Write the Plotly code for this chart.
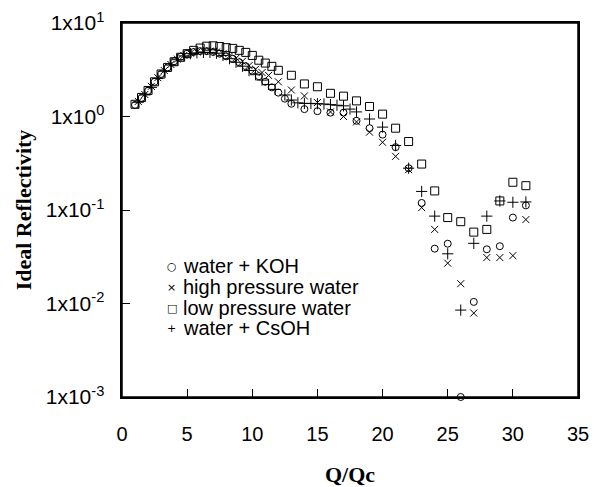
import plotly.graph_objects as go

# ---- data ----
q_koh = [1.0, 1.5, 2.0, 2.5, 3.0, 3.5, 4.0, 4.5, 5.0, 5.5, 6.0, 6.5, 7.0, 7.5, 8.0, 8.5,
         9.0, 9.5, 10.0, 10.5, 11.0, 11.5, 12.0, 12.5,
         13, 14, 15, 16, 17, 18, 19, 20, 21, 22, 23, 24, 25, 26, 27, 28, 29, 30, 31]
r_koh = [1.33, 1.58, 1.88, 2.35, 2.85, 3.35, 3.9, 4.35, 4.7, 4.9, 5.0, 5.0, 4.9, 4.7, 4.4, 4.15,
         3.8, 3.45, 3.1, 2.7, 2.35, 2.05, 1.8, 1.55,
         1.37, 1.2, 1.14, 1.1, 1.1, 0.9, 0.75, 0.64, 0.47, 0.28, 0.119, 0.0386, 0.0436, 0.001,
         0.0104, 0.038, 0.041, 0.083, 0.112]

q_hp = [1.25, 1.75, 2.25, 2.75, 3.25, 3.75, 4.25, 4.75, 5.25, 5.75, 6.25, 6.75, 7.25, 7.75,
        8.25, 8.75, 9.25, 9.75, 10.25, 10.75, 11.25,
        12, 13, 14, 15, 16, 17, 18, 19, 20, 21, 22, 23, 24, 25, 26, 27, 28, 29, 30, 31]
r_hp = [1.45, 1.72, 2.1, 2.6, 3.1, 3.6, 4.1, 4.5, 4.75, 4.9, 5.0, 5.0, 4.9, 4.7,
        4.45, 4.2, 3.9, 3.5, 3.2, 2.95, 2.75,
        2.35, 1.92, 1.66, 1.41, 1.12, 1.0, 0.875, 0.68, 0.53, 0.375, 0.27, 0.106, 0.062,
        0.027, 0.0163, 0.0079, 0.031, 0.031, 0.0325, 0.079]

q_lp = [1.0, 1.5, 2.0, 2.5, 3.0, 3.5, 4.0, 4.5, 5.0, 5.5, 6.0, 6.5, 7.0, 7.5, 8.0, 8.5,
        9.0, 9.5, 10.0, 10.5, 11.0, 11.5, 12.0,
        13, 14, 15, 16, 17, 18, 19, 20, 21, 22, 23, 24, 25, 26, 27, 28, 29, 30, 31]
r_lp = [1.35, 1.6, 1.9, 2.35, 2.85, 3.35, 3.85, 4.3, 4.7, 5.1, 5.4, 5.65, 5.7, 5.6, 5.45, 5.35,
        5.1, 4.85, 4.5, 4.0, 3.73, 3.44, 3.12,
        2.76, 2.23, 2.08, 1.77, 1.65, 1.47, 1.28, 1.06, 0.75, 0.54, 0.31, 0.16, 0.083, 0.075,
        0.058, 0.062, 0.125, 0.198, 0.182]

q_cs = [1.25, 1.75, 2.25, 2.75, 3.25, 3.75, 4.25, 4.75, 5.25, 5.75, 6.25, 6.75, 7.25, 7.75,
        8.25, 8.75, 9.25, 9.75, 10.25, 10.75, 11.25, 11.75,
        12.5, 13.0, 13.5, 14.0, 14.5, 15.0, 15.5, 16.0, 16.5, 17.0, 17.5,
        18, 19, 20, 21, 22, 23, 24, 25, 26, 27, 28, 29, 30, 31]
r_cs = [1.42, 1.7, 2.05, 2.55, 3.05, 3.55, 4.05, 4.45, 4.7, 4.8, 4.85, 4.85, 4.75, 4.5,
        4.15, 3.8, 3.45, 3.1, 2.8, 2.45, 2.2, 1.95,
        1.7, 1.5, 1.4, 1.38, 1.38, 1.37, 1.36, 1.34, 1.32, 1.3, 1.2,
        1.12, 0.94, 0.77, 0.49, 0.28, 0.158, 0.086, 0.034, 0.0085, 0.044, 0.086, 0.125,
        0.121, 0.122]

series_names = ["water + KOH", "high pressure water", "low pressure water", "water + CsOH"]
legend_glyphs = ["○", "×", "□", "+"]
x_ticks = [0, 5, 10, 15, 20, 25, 30, 35]
y_tick_vals = [0.001, 0.01, 0.1, 1, 10]
y_tick_text = ["1x10<sup>-3</sup>", "1x10<sup>-2</sup>", "1x10<sup>-1</sup>",
               "1x10<sup>0</sup>", "1x10<sup>1</sup>"]
y_minor_vals = [k * 10.0 ** e for e in range(-3, 1) for k in range(2, 10)]

NB = "\u00a0"

fig = go.Figure()
specs = [
    (q_koh, r_koh, series_names[0], "circle-open", 7),
    (q_hp, r_hp, series_names[1], "x-thin-open", 7),
    (q_lp, r_lp, series_names[2], "square-open", 8),
    (q_cs, r_cs, series_names[3], "cross-thin-open", 8),
]
for qx, ry, nm, sym, sz in specs:
    fig.add_trace(go.Scatter(
        x=qx, y=ry, name=nm, mode="markers", cliponaxis=False,
        marker=dict(symbol=sym, size=sz, color="black", line=dict(color="black", width=1)),
    ))

# legend drawn as text rows (tight row spacing like the reference)
row_y = [0.3495, 0.2933, 0.2372, 0.1837]
annotations = []
for glyph, nm, yy in zip(legend_glyphs, series_names, row_y):
    annotations.append(dict(x=0.1096, y=yy, xref="paper", yref="paper", text=glyph,
                            showarrow=False, xanchor="center", yanchor="middle",
                            font=dict(family="DejaVu Sans", size=11, color="black")))
    annotations.append(dict(x=0.129, y=yy, xref="paper", yref="paper", text=nm,
                            showarrow=False, xanchor="left", yanchor="middle",
                            font=dict(family="Liberation Sans, Arial, sans-serif", size=20,
                                      color="black")))

fig.update_layout(
    width=600, height=487,
    margin=dict(l=122, r=22, t=23, b=90),
    paper_bgcolor="white", plot_bgcolor="white",
    font=dict(family="Liberation Sans, Arial, sans-serif", color="black"),
    showlegend=False,
    annotations=annotations,
    shapes=[dict(type="rect", xref="paper", yref="paper", x0=0, x1=1, y0=0, y1=1,
                 line=dict(color="black", width=1.5), fillcolor="rgba(0,0,0,0)",
                 layer="above")],
    xaxis=dict(
        range=[0, 35], tickvals=x_ticks, ticks="inside", ticklen=8, tickcolor="black",
        tickwidth=1, showline=True, linecolor="black", linewidth=1.5, mirror=True,
        showgrid=False, zeroline=False, tickfont=dict(size=20), automargin=False,
        ticklabelstandoff=18,
        title=dict(text="<b>Q/Qc</b>",
                   font=dict(family="Liberation Serif, Times New Roman, serif", size=22),
                   standoff=26),
    ),
    yaxis=dict(
        type="log", range=[-3, 1], tickvals=y_tick_vals,
        ticktext=[t + NB + NB for t in y_tick_text],
        ticks="inside", ticklen=8, tickcolor="black", tickwidth=1,
        showline=True, linecolor="black", linewidth=1.5, mirror=True, showgrid=False,
        zeroline=False, tickfont=dict(size=21), automargin=False,
        title=dict(text="<b>Ideal Reflectivity</b>",
                   font=dict(family="Liberation Serif, Times New Roman, serif", size=22),
                   standoff=8),
    ),
    # minor log ticks drawn by an overlaying axis with the same range
    yaxis2=dict(
        type="log", range=[-3, 1], overlaying="y", side="left", anchor="x",
        tickvals=y_minor_vals, ticks="inside", ticklen=4, tickcolor="black", tickwidth=1,
        showticklabels=False, showgrid=False, zeroline=False, showline=False,
        automargin=False,
    ),
)

fig.write_html("out.html", post_script="document.body.style.margin='0';",
               config={"displayModeBar": False})
